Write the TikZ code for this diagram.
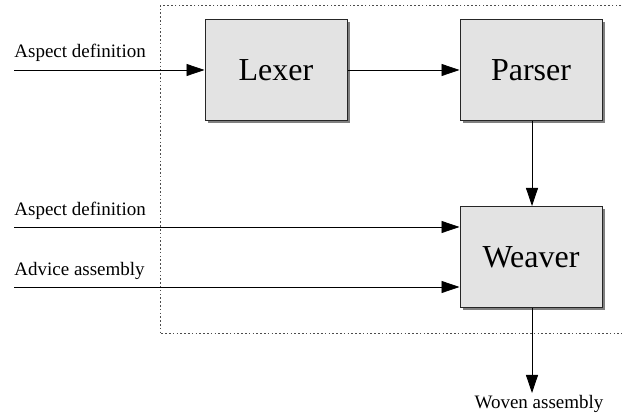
\documentclass[tikz,border=0pt]{standalone}
\usepackage{fontspec}
\setmainfont{Liberation Serif}
\usetikzlibrary{positioning,arrows.meta,shadows}

\tikzset{
  block/.style={draw=black!85, line width=1pt, fill=black!11,
    minimum width=142pt, minimum height=101pt, inner sep=0pt,
    font=\fontsize{32}{36}\selectfont,
    drop shadow={shadow xshift=2.5pt, shadow yshift=-2.5pt, fill=black!50, opacity=1}},
  lbl/.style={inner sep=0pt, font=\fontsize{19}{22}\selectfont},
  frame/.style={-, draw=black!70, line width=1pt, dash pattern=on 1.6pt off 2.2pt}
}

\begin{document}
\begin{tikzpicture}[x=1pt,y=-1pt,->,>={Triangle[length=18pt,width=12pt]},line width=0.8pt]
	\useasboundingbox (0,0) rectangle (622,414);
	% dotted frame, its right side is off the page
	\draw[frame] (640,6) -- (160,6) -- (160,334) -- (640,334);

	\node[block] (lexer) at (276,70) {Lexer};
	\node[block, right=112pt of lexer] (parser) {Parser};
	\node[block, below=85pt of parser] (weaver) {Weaver};

	\coordinate (in1) at (14,70);
	\coordinate (in2) at (14,227);
	\coordinate (in3) at (14,287);
	\coordinate (out) at ([xshift=1pt,yshift=-85pt]weaver.south);

	\node[lbl, anchor=base west] (aspect1) at ([yshift=12pt]in1) {Aspect definition};
	\node[lbl, anchor=base west] (aspect2) at ([yshift=11pt]in2) {Aspect definition};
	\node[lbl, anchor=base west] (advice) at ([yshift=11pt]in3) {Advice assembly};
	\node[lbl, anchor=base] (woven) at ([xshift=7pt,yshift=-16pt]out) {Woven assembly};

	\draw (in1) -- (lexer);
	\draw (lexer) -- (parser);
	\draw ([xshift=1pt]parser.south) -- ([xshift=1pt]weaver.north);
	\draw (in2) -- (in2 -| weaver.west);
	\draw (in3) -- (in3 -| weaver.west);
	\draw ([xshift=1pt]weaver.south) -- (out);
\end{tikzpicture}
\end{document}
